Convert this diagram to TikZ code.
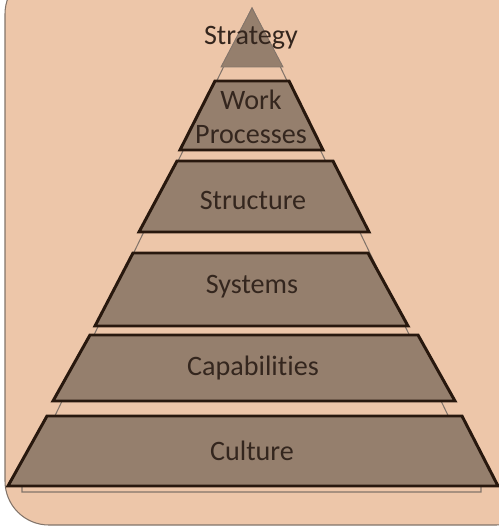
\documentclass[tikz,border=0pt]{standalone}
\usepackage{fontspec}
\setmainfont{Carlito}[Ligatures=NoCommon]

\definecolor{peach}{RGB}{237,198,169}
\definecolor{layerfill}{RGB}{149,127,109}
\definecolor{layerline}{RGB}{40,24,14}
\definecolor{outline}{RGB}{130,116,106}
\definecolor{labeltext}{RGB}{52,38,30}

\begin{document}
\begin{tikzpicture}[x=0.02cm,y=-0.02cm,
    layer/.style={fill=layerfill,draw=layerline,line width=1.7pt},
    tip/.style={fill=layerfill,draw=outline,line width=0.5pt},
    label/.style={text=labeltext,font=\fontsize{16}{19}\selectfont,align=center}]
    \useasboundingbox (0,0) rectangle (499,527);
    \clip (0,0) rectangle (499,527);

    \fill[peach,draw=outline,line width=0.6pt,rounded corners=25] (5,-30) rectangle (540,525);

    \draw[outline,line width=0.6pt] (252,8)--(22,484)--(22,492)--(481,492)--(481,484)--cycle;

    \draw[tip](252,8)--(283,67)--(221,67)--cycle;
    \draw[layer](215,81)--(289,81)--(323,150)--(180,150)--cycle;
    \draw[layer](177,161)--(333,161)--(369,232)--(139,232)--cycle;
    \draw[layer](133,253)--(368,253)--(408,326)--(95,326)--cycle;
    \draw[layer](90,335)--(418,335)--(455,401)--(53,401)--cycle;
    \draw[layer](47,416)--(462,416)--(498,486)--(8,486)--cycle;

    \node[label](strategy) at (251,38){Strategy};
    \node[label](work) at (251,117){Work\\Processes};
    \node[label](structure) at (253,200){Structure};
    \node[label](systems) at (252,287){Systems};
    \node[label](capabilities) at (253,368){Capabilities};
    \node[label](culture) at (252,451){Culture};
\end{tikzpicture}
\end{document}
